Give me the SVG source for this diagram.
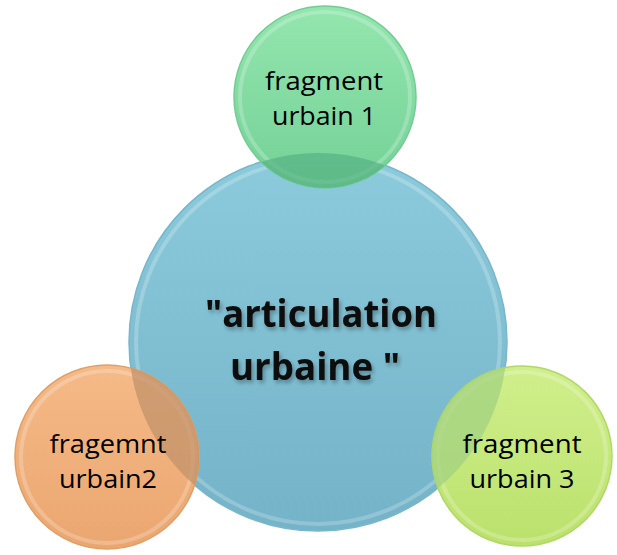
<svg xmlns="http://www.w3.org/2000/svg" width="617" height="555" viewBox="0 0 617 555">
  <style>
    .lbl { font-family: "Open Sans", "Liberation Sans", sans-serif; font-size: 25px; fill: #000; text-anchor: middle; }
    .big { font-family: "Open Sans", "Liberation Sans", sans-serif; font-size: 37px; font-weight: bold; fill: #0a0a0a; text-anchor: middle; }
    .rim { fill: none; stroke: #ffffff; stroke-opacity: 0.22; stroke-width: 4; }
  </style>
  <defs>
    <linearGradient id="gBlue" x1="0" y1="0" x2="0" y2="1">
      <stop offset="0" stop-color="#8ccbdc"/>
      <stop offset="1" stop-color="#74b3c8"/>
    </linearGradient>
    <linearGradient id="gGreen" x1="0" y1="0" x2="0" y2="1">
      <stop offset="0" stop-color="#93e6ae"/>
      <stop offset="1" stop-color="#74d197"/>
    </linearGradient>
    <linearGradient id="gOrange" x1="0" y1="0" x2="0" y2="1">
      <stop offset="0" stop-color="#f5ba88"/>
      <stop offset="1" stop-color="#eba670"/>
    </linearGradient>
    <linearGradient id="gLime" x1="0" y1="0" x2="0" y2="1">
      <stop offset="0" stop-color="#d0ef8c"/>
      <stop offset="1" stop-color="#bbe16c"/>
    </linearGradient>
    <clipPath id="clipBlue"><circle cx="318" cy="342" r="189"/></clipPath>
    <filter id="shadow" x="-10%" y="-20%" width="120%" height="140%">
      <feDropShadow dx="2" dy="3" stdDeviation="2" flood-color="#000" flood-opacity="0.3"/>
    </filter>
  </defs>
  <rect width="617" height="555" fill="#ffffff"/>

  <g id="node-center">
    <circle cx="318" cy="342" r="189" fill="url(#gBlue)" stroke="#78b6ca" stroke-width="1.5"/>
    <circle cx="318" cy="342" r="182" class="rim"/>
  </g>

  <g id="node-fragment1">
    <circle cx="325" cy="97" r="91" fill="url(#gGreen)" stroke="#74cb95" stroke-width="1.5"/>
    <circle cx="325" cy="97" r="85" class="rim"/>
    <circle cx="325" cy="97" r="91" fill="#55b283" fill-opacity="0.7" clip-path="url(#clipBlue)"/>
    <text class="lbl" x="324" y="90" textLength="118" lengthAdjust="spacingAndGlyphs">fragment</text>
    <text class="lbl" x="324" y="125" textLength="104" lengthAdjust="spacingAndGlyphs">urbain 1</text>
  </g>

  <g id="node-fragment2">
    <circle cx="107" cy="457" r="92" fill="url(#gOrange)" stroke="#dfa068" stroke-width="1.5"/>
    <circle cx="107" cy="457" r="86" class="rim"/>
    <circle cx="107" cy="457" r="92" fill="#bf9068" fill-opacity="0.7" clip-path="url(#clipBlue)"/>
    <text class="lbl" x="108" y="453" textLength="117" lengthAdjust="spacingAndGlyphs">fragemnt</text>
    <text class="lbl" x="108" y="488" textLength="98" lengthAdjust="spacingAndGlyphs">urbain2</text>
  </g>

  <g id="node-fragment3">
    <circle cx="522" cy="456" r="90" fill="url(#gLime)" stroke="#b0d866" stroke-width="1.5"/>
    <circle cx="522" cy="456" r="84" class="rim"/>
    <circle cx="522" cy="456" r="90" fill="#a3d281" fill-opacity="0.75" clip-path="url(#clipBlue)"/>
    <text class="lbl" x="522" y="453" textLength="119" lengthAdjust="spacingAndGlyphs">fragment</text>
    <text class="lbl" x="522" y="488" textLength="105" lengthAdjust="spacingAndGlyphs">urbain 3</text>
  </g>

  <g id="center-label" filter="url(#shadow)">
    <text class="big" x="321" y="327" textLength="232" lengthAdjust="spacingAndGlyphs">"articulation</text>
    <text class="big" x="315" y="380" textLength="170" lengthAdjust="spacingAndGlyphs">urbaine "</text>
  </g>

  <g id="connectors"/>
</svg>
